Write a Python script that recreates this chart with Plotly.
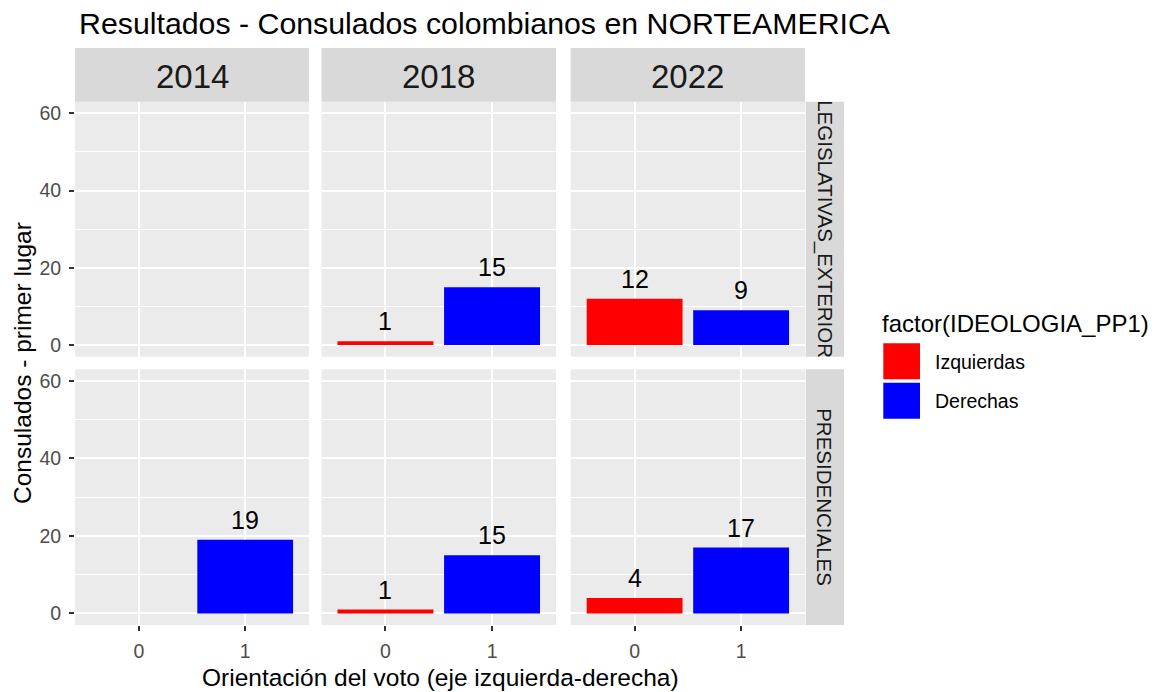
import plotly.graph_objects as go

# data
years = ["2014", "2018", "2022"]
elections = ["LEGISLATIVAS_EXTERIOR", "PRESIDENCIALES"]
orientation = [0, 1]  # 0 = Izquierdas, 1 = Derechas
series_names = ["Izquierdas", "Derechas"]
series_colors = ["#FF0000", "#0000FF"]

izq_legislativas = [None, 1, 12]
der_legislativas = [None, 15, 9]
izq_presidenciales = [None, 1, 4]
der_presidenciales = [19, 15, 17]

values = {
    "LEGISLATIVAS_EXTERIOR": [izq_legislativas, der_legislativas],
    "PRESIDENCIALES": [izq_presidenciales, der_presidenciales],
}

y_ticks = [0, 20, 40, 60]
y_minor = [10, 30, 50]

W, H = 1163, 692
FONT = "Liberation Sans, Arial, sans-serif"

# panel geometry in pixels (left, right) and (top, bottom)
cols_px = [(75, 309), (321.5, 556), (570.7, 805)]
rows_px = [(101.7, 356.7), (369.3, 625)]


def px_x(v):
    return v / W


def px_y(v):
    return 1 - v / H


fig = go.Figure()
layout = {}
annotations = []
shapes = []

for r, election in enumerate(elections):
    for c, year in enumerate(years):
        i = r * 3 + c + 1
        xa = "x" if i == 1 else f"x{i}"
        ya = "y" if i == 1 else f"y{i}"
        for s, name in enumerate(series_names):
            v = values[election][s][c]
            # trace is added even when empty so the panel is still drawn
            fig.add_trace(go.Bar(
                x=[orientation[s]], y=[v], width=0.9,
                marker=dict(color=series_colors[s], line=dict(width=0)),
                name=name, showlegend=False, xaxis=xa, yaxis=ya,
                hoverinfo="skip",
            ))
            if v is None:
                continue
            annotations.append(dict(
                x=orientation[s], y=v, xref=xa, yref=ya, text=str(v),
                showarrow=False, yanchor="bottom", yshift=4,
                font=dict(family=FONT, size=25, color="#000000"),
            ))

        bottom_row = r == len(elections) - 1
        left_col = c == 0
        layout["xaxis" if i == 1 else f"xaxis{i}"] = dict(
            domain=[px_x(cols_px[c][0]), px_x(cols_px[c][1])],
            anchor=ya, range=[-0.6, 1.6], tickvals=orientation,
            showticklabels=bottom_row,
            ticks="outside" if bottom_row else "", ticklen=5, tickwidth=1.5,
            tickcolor="#333333", ticklabelstandoff=4,
            tickfont=dict(family=FONT, size=19.5, color="#4D4D4D"),
            showgrid=True, gridcolor="#FFFFFF", gridwidth=2,
            zeroline=False, showline=False, fixedrange=True,
        )
        layout["yaxis" if i == 1 else f"yaxis{i}"] = dict(
            domain=[px_y(rows_px[r][1]), px_y(rows_px[r][0])],
            anchor=xa, range=[-3, 63], tickvals=y_ticks,
            showticklabels=left_col,
            ticks="outside" if left_col else "", ticklen=5, tickwidth=1.5,
            tickcolor="#333333", ticklabelstandoff=4,
            tickfont=dict(family=FONT, size=19.5, color="#4D4D4D"),
            showgrid=True, gridcolor="#FFFFFF", gridwidth=2,
            minor=dict(tickvals=y_minor, showgrid=True, gridcolor="#FFFFFF",
                       gridwidth=1, ticks=""),
            zeroline=False, showline=False, fixedrange=True,
        )

# top strips (years)
for c, year in enumerate(years):
    shapes.append(dict(type="rect", xref="paper", yref="paper",
                       x0=px_x(cols_px[c][0]), x1=px_x(cols_px[c][1]),
                       y0=px_y(101.7), y1=px_y(48),
                       fillcolor="#D9D9D9", line=dict(width=0), layer="below"))
    annotations.append(dict(x=px_x((cols_px[c][0] + cols_px[c][1]) / 2), y=px_y(77),
                            xref="paper", yref="paper", text=year, showarrow=False,
                            xanchor="center", yanchor="middle",
                            font=dict(family=FONT, size=33, color="#1A1A1A")))

# right strips (election type)
for r, election in enumerate(elections):
    shapes.append(dict(type="rect", xref="paper", yref="paper",
                       x0=px_x(805.7), x1=px_x(844),
                       y0=px_y(rows_px[r][1]), y1=px_y(rows_px[r][0]),
                       fillcolor="#D9D9D9", line=dict(width=0), layer="below"))
    annotations.append(dict(x=px_x(825), y=px_y((rows_px[r][0] + rows_px[r][1]) / 2),
                            xref="paper", yref="paper", text=election, showarrow=False,
                            textangle=90, xanchor="center", yanchor="middle",
                            font=dict(family=FONT, size=20.5, color="#1A1A1A")))

# title and axis titles
annotations.append(dict(x=px_x(77), y=px_y(24), xref="paper", yref="paper",
                        text="Resultados - Consulados colombianos en NORTEAMERICA",
                        showarrow=False, xanchor="left", yanchor="middle",
                        font=dict(family=FONT, size=30.3, color="#000000")))
annotations.append(dict(x=px_x(440), y=px_y(677), xref="paper", yref="paper",
                        text="Orientación del voto (eje izquierda-derecha)",
                        showarrow=False, xanchor="center", yanchor="middle",
                        font=dict(family=FONT, size=24.5, color="#000000")))
annotations.append(dict(x=px_x(23), y=px_y(363), xref="paper", yref="paper",
                        text="Consulados - primer lugar", textangle=-90,
                        showarrow=False, xanchor="center", yanchor="middle",
                        font=dict(family=FONT, size=24.5, color="#000000")))

# legend drawn by hand to get ggplot-sized keys
annotations.append(dict(x=px_x(880), y=px_y(323), xref="paper", yref="paper",
                        text="factor(IDEOLOGIA_PP1)", showarrow=False,
                        xanchor="left", yanchor="middle",
                        font=dict(family=FONT, size=24, color="#000000")))
key_tops = [343.3, 382.7]
for s, name in enumerate(series_names):
    shapes.append(dict(type="rect", xref="paper", yref="paper",
                       x0=px_x(883.3), x1=px_x(920),
                       y0=px_y(key_tops[s] + 36), y1=px_y(key_tops[s]),
                       fillcolor=series_colors[s], line=dict(width=0)))
    annotations.append(dict(x=px_x(933), y=px_y(key_tops[s] + 18.5),
                            xref="paper", yref="paper", text=name, showarrow=False,
                            xanchor="left", yanchor="middle",
                            font=dict(family=FONT, size=19.5, color="#000000")))

fig.update_layout(
    width=W, height=H,
    margin=dict(l=0, r=0, t=0, b=0),
    paper_bgcolor="#FFFFFF",
    plot_bgcolor="#EBEBEB",
    barmode="overlay",
    showlegend=False,
    annotations=annotations,
    shapes=shapes,
    **layout,
)

# drop the default 8px page margin so the figure sits at the window origin
fig.write_html("out.html", config={"displayModeBar": False},
               post_script="document.body.style.margin='0';")
